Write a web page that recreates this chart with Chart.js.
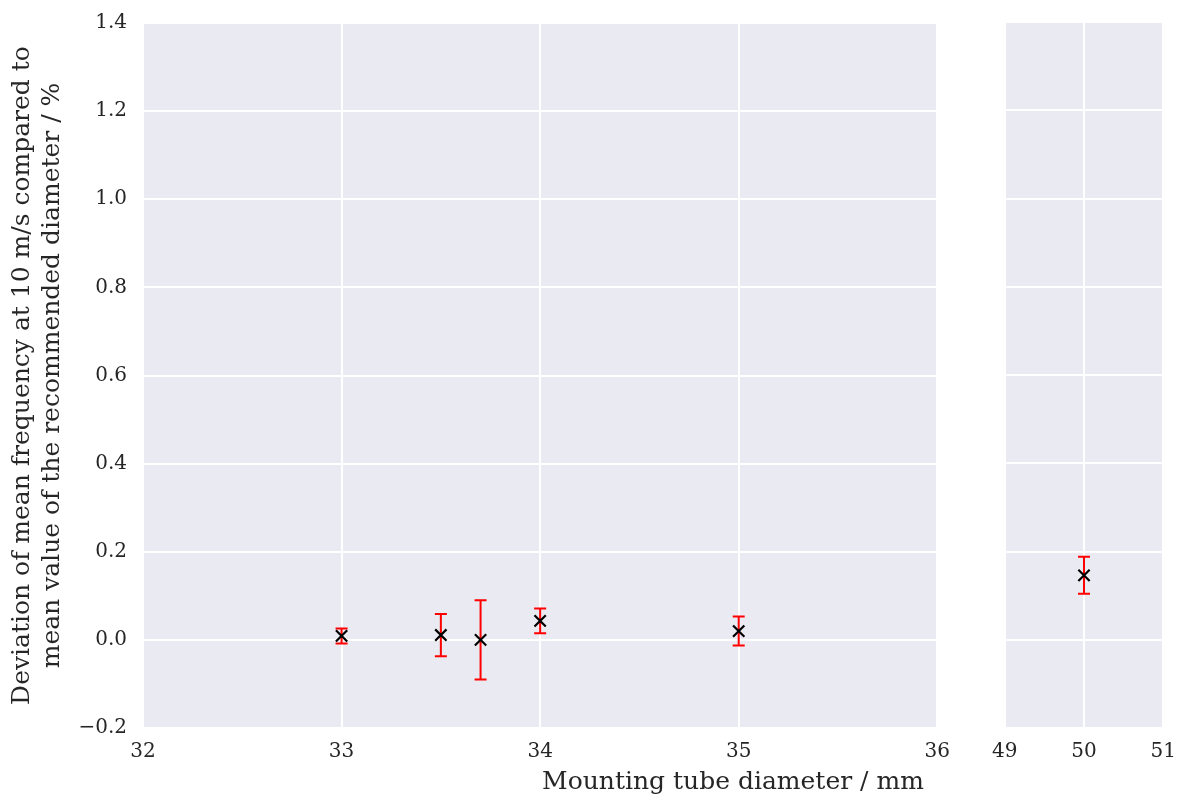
<!DOCTYPE html>
<html>
<head>
<meta charset="utf-8">
<script src="https://cdn.jsdelivr.net/npm/chart.js@4"></script>
<style>
  html, body { margin: 0; padding: 0; background: #ffffff; }
  #wrap { position: relative; width: 1181px; height: 796px; overflow: hidden; }
  canvas { position: absolute; }
  #xTitle {
    position: absolute; left: 733px; top: 768px; transform: translateX(-50%);
    font-family: "DejaVu Serif", serif; font-size: 25px; line-height: 1; color: #262626;
    white-space: nowrap;
  }
</style>
</head>
<body>
<div id="wrap">
  <canvas id="leftChart" width="962" height="801" style="left:0px; top:-5px"></canvas>
  <canvas id="rightChart" width="208" height="796" style="left:980px; top:0px"></canvas>
  <div id="xTitle">Mounting tube diameter / mm</div>
</div>
<script>
// Data
const diameters = [33, 33.5, 33.7, 34, 35, 50];
const deviations = [0.009, 0.011, 0.0, 0.043, 0.020, 0.146];
const errors = [0.017, 0.048, 0.090, 0.028, 0.033, 0.042];

const yTitleLines = [
  "Deviation of mean frequency at 10 m/s compared to",
  "mean value of the recommended diameter / %",
];

const FONT = "'DejaVu Serif', serif";
const TEXT = "#262626";

function pointsIn(lo, hi) {
  const pts = [];
  diameters.forEach((d, i) => {
    if (d >= lo && d <= hi) pts.push({ x: d, y: deviations[i], err: errors[i] });
  });
  return pts;
}

// Grey plot background
const plotBackground = {
  id: "plotBackground",
  beforeDraw(chart) {
    const { ctx, chartArea: a } = chart;
    ctx.save();
    ctx.fillStyle = "#eaeaf2";
    ctx.fillRect(a.left, a.top, a.right - a.left, a.bottom - a.top);
    ctx.restore();
  },
};

// Red vertical error bars with caps
const errorBars = {
  id: "errorBars",
  beforeDatasetsDraw(chart) {
    const { ctx } = chart;
    const xs = chart.scales.x, ys = chart.scales.y;
    ctx.save();
    ctx.strokeStyle = "#ff0000";
    ctx.lineWidth = 2;
    chart.data.datasets[0].data.forEach((p) => {
      const x = xs.getPixelForValue(p.x);
      const y1 = ys.getPixelForValue(p.y + p.err);
      const y2 = ys.getPixelForValue(p.y - p.err);
      ctx.beginPath();
      ctx.moveTo(x, y1); ctx.lineTo(x, y2);
      ctx.moveTo(x - 6, y1); ctx.lineTo(x + 6, y1);
      ctx.moveTo(x - 6, y2); ctx.lineTo(x + 6, y2);
      ctx.stroke();
    });
    ctx.restore();
  },
};

function fmtY(v) {
  if (Math.abs(v) < 1e-9) v = 0;
  return v.toFixed(1).replace("-", "\u2212");
}

function makeChart(canvasId, pts, xMin, xMax, isLeft) {
  return new Chart(document.getElementById(canvasId), {
    type: "scatter",
    data: {
      datasets: [
        {
          data: pts,
          pointStyle: "crossRot",
          pointRadius: 8,
          pointHoverRadius: 8,
          borderColor: "#000000",
          backgroundColor: "#000000",
          borderWidth: 2.2,
        },
      ],
    },
    options: {
      responsive: false,
      animation: false,
      layout: {
        padding: isLeft
          ? { top: 17, right: 21, bottom: 0, left: 0 }
          : { top: 22, right: 11, bottom: 0, left: 15 },
      },
      plugins: {
        legend: { display: false },
        tooltip: { enabled: false },
      },
      scales: {
        x: {
          type: "linear",
          min: xMin,
          max: xMax,
          afterFit: (s) => { s.height = 68; },
          grid: { color: "#ffffff", lineWidth: 2, drawTicks: false },
          border: { display: false },
          ticks: {
            stepSize: 1,
            padding: 12,
            color: TEXT,
            font: { family: FONT, size: 20 },
            callback: (v) => String(v),
          },
        },
        y: {
          type: "linear",
          min: -0.2,
          max: 1.4,
          afterFit: (s) => { s.width = isLeft ? 143 : 0; },
          grid: { color: "#ffffff", lineWidth: 2, drawTicks: false },
          border: { display: false },
          ticks: {
            display: isLeft,
            stepSize: 0.2,
            padding: 16,
            color: TEXT,
            font: { family: FONT, size: 20 },
            callback: fmtY,
          },
          title: {
            display: isLeft,
            text: yTitleLines,
            color: TEXT,
            font: { family: FONT, size: 25, lineHeight: 1.2 },
            padding: { top: 7, bottom: 0 },
          },
        },
      },
    },
    plugins: [plotBackground, errorBars],
  });
}

makeChart("leftChart", pointsIn(32, 36), 32, 36, true);
makeChart("rightChart", pointsIn(49, 51), 49, 51, false);
</script>
</body>
</html>
